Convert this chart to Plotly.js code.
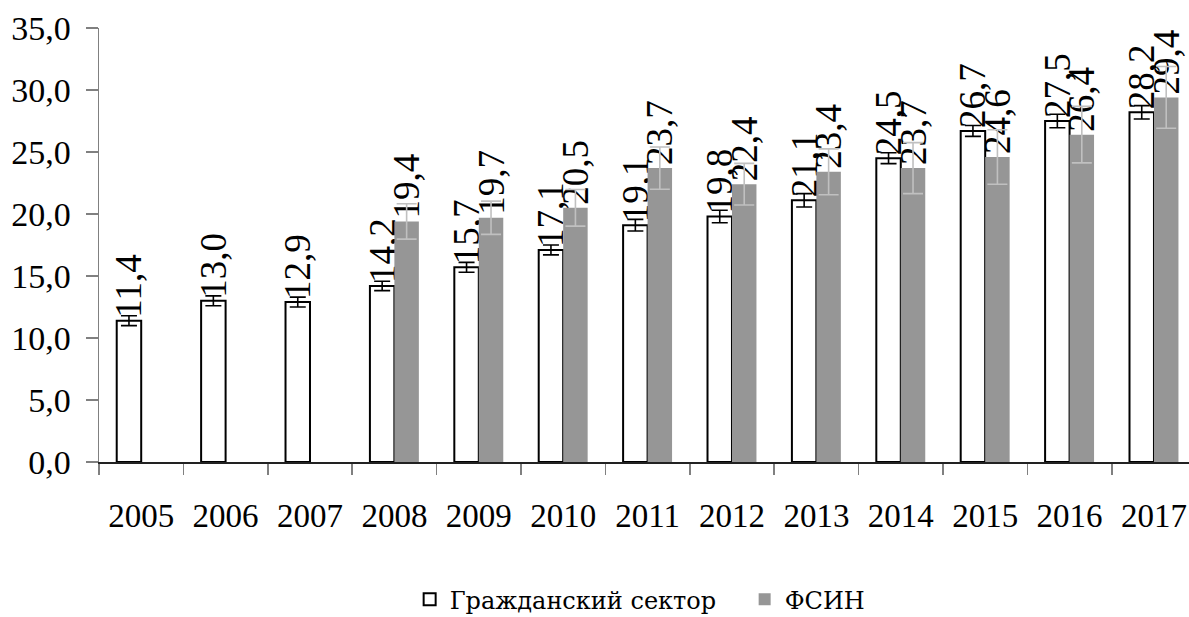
<!DOCTYPE html>
<html>
<head>
<meta charset="utf-8">
<script src="https://cdn.plot.ly/plotly-3.0.1.min.js"></script>
<style>html,body{margin:0;padding:0;background:#fff;}#chart{width:1189px;height:617px;}</style>
</head>
<body>
<div id="chart"></div>
<script>
var years = ['2005','2006','2007','2008','2009','2010','2011','2012','2013','2014','2015','2016','2017'];
var civilValues = [11.4,13.0,12.9,14.2,15.7,17.1,19.1,19.8,21.1,24.5,26.7,27.5,28.2];
var civilErrors = [0.4,0.4,0.4,0.38,0.4,0.4,0.47,0.5,0.54,0.44,0.44,0.54,0.54];
var fsinValues = [null,null,null,19.4,19.7,20.5,23.7,22.4,23.4,23.7,24.6,26.4,29.4];
var fsinErrors = [null,null,null,1.43,1.34,1.48,1.7,1.68,1.85,2.06,2.2,2.28,2.49];
var seriesNames = ['Гражданский сектор','ФСИН'];

function fmt(v){ return v === null ? '' : v.toFixed(1).replace('.', ','); }
var FONT = 'Liberation Serif';
var LEGFONT = 'DejaVu Serif';

var traces = [
  {
    type: 'bar', name: seriesNames[0], x: years, y: civilValues,
    marker: {color: '#ffffff', line: {color: '#000000', width: 2}},
    error_y: {type: 'data', array: civilErrors, visible: true, color: '#000000', thickness: 1.6, width: 8},
    text: civilValues.map(fmt), textposition: 'outside', textangle: -90,
    textfont: {family: FONT, size: 37, color: '#000000'},
    constraintext: 'none', cliponaxis: false
  },
  {
    type: 'bar', name: seriesNames[1], x: years, y: fsinValues,
    marker: {color: '#969696', line: {color: '#969696', width: 0}},
    error_y: {type: 'data', array: fsinErrors, visible: true, color: '#c0c0c0', thickness: 1.6, width: 10},
    text: fsinValues.map(fmt), textposition: 'outside', textangle: -90,
    textfont: {family: FONT, size: 37, color: '#000000'},
    constraintext: 'none', cliponaxis: false
  }
];

var layout = {
  width: 1189, height: 617,
  margin: {l: 99, r: 0, t: 28, b: 155},
  paper_bgcolor: '#ffffff', plot_bgcolor: '#ffffff',
  separators: ', ',
  font: {family: FONT, color: '#000000'},
  barmode: 'group', bargap: 0.42, bargroupgap: 0,
  showlegend: true,
  legend: {
    orientation: 'h', x: 0.285, xanchor: 'left', yref: 'container', y: 0.028, yanchor: 'middle',
    font: {family: LEGFONT, size: 24, color: '#000000'}, itemwidth: 30,
    entrywidth: 290, entrywidthmode: 'pixels'
  },
  xaxis: {
    type: 'category', range: [-0.5, 12.415],
    showline: true, linecolor: '#222222', linewidth: 1.5,
    ticks: 'outside', tickson: 'boundaries', ticklen: 11, tickcolor: '#808080', tickwidth: 1.5,
    tickfont: {family: FONT, size: 33, color: '#000000'}, ticklabelstandoff: 24,
    showgrid: false, zeroline: false, fixedrange: true
  },
  yaxis: {
    range: [0, 35], dtick: 5, tick0: 0, tickformat: '.1f',
    showline: true, linecolor: '#808080', linewidth: 1.5,
    ticks: 'outside', ticklen: 12, tickcolor: '#808080', tickwidth: 1.5,
    tickfont: {family: FONT, size: 34, color: '#000000'}, ticklabelstandoff: 8,
    showgrid: false, zeroline: false, fixedrange: true
  }
};

Plotly.newPlot('chart', traces, layout, {displayModeBar: false, staticPlot: true});
</script>
</body>
</html>
